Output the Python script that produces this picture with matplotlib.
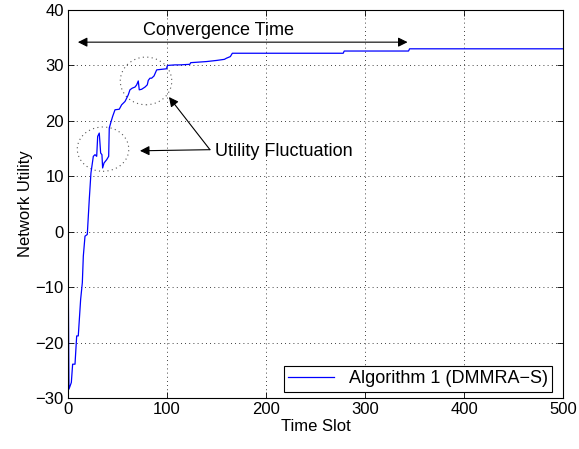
import matplotlib
matplotlib.use('Agg')
import matplotlib.pyplot as plt
from matplotlib.patches import Ellipse

plt.rcParams['font.family'] = ['Liberation Sans', 'DejaVu Sans']
plt.rcParams['font.size'] = 12

# data
time_slot = [0, 1, 3.4, 4.7, 7.1, 8.8, 10.4, 12.8, 14.5, 15.5, 17.2, 19.5, 21.5, 23.2,
             25.6, 27.3, 29, 30, 31.6, 33, 34.3, 35, 36.4, 39.1, 41.1, 41.7, 43.1, 45.1,
             47.5, 51.8, 54.2, 57.6, 59.3, 60.9, 62.6, 64.9, 67.7, 69.4, 71, 72, 74.4,
             77.8, 80.1, 81.1, 82.8, 84.5, 86.9, 89.6, 94.6, 99.7, 100.5, 108, 113, 123,
             124, 140, 150, 158, 160, 164, 166, 278, 279, 344, 345, 500]
utility = [0, -28.4, -27.2, -23.9, -23.9, -18.8, -18.8, -12.2, -9.2, -4.4, -0.8, -0.5,
           5.8, 10.6, 13.6, 13.9, 13.6, 17.2, 17.8, 14.2, 13.9, 11.5, 12.4, 13.0, 13.6,
           18.7, 19.6, 20.8, 22.0, 22.1, 22.9, 23.5, 24.1, 24.7, 25.6, 25.9, 26.1, 26.5,
           27.2, 25.6, 25.7, 26.1, 26.5, 27.3, 27.7, 27.7, 28.1, 29.2, 29.3, 29.4, 30.0,
           30.1, 30.1, 30.2, 30.5, 30.7, 30.9, 31.1, 31.3, 31.6, 32.2, 32.2, 32.6, 32.6,
           33.0, 33.0]

fig = plt.figure(figsize=(5.79, 4.49), dpi=100)
ax = fig.add_axes([0.1174, 0.1136, 0.855, 0.8641])

ax.plot(time_slot, utility, color='#0000ff', lw=0.9, label='Algorithm 1 (DMMRA\u2212S)')

ax.set_xlim(0, 500)
ax.set_ylim(-30, 40)
ax.set_xticks([0, 100, 200, 300, 400, 500])
ax.set_yticks(range(-30, 41, 10))
ax.set_yticklabels([str(v).replace('-', '\u2212') for v in range(-30, 41, 10)])
ax.tick_params(direction='in', top=True, right=True, length=4, width=0.6, pad=3)
ax.grid(True, color='black', linestyle=(0, (1, 4)), lw=0.6)
for s in ax.spines.values():
    s.set_linewidth(0.8)

ax.set_xlabel('Time Slot', labelpad=1)
ax.set_ylabel('Network Utility', labelpad=2)

# dotted circles
for cx, cy, w, h in [(35.4, 14.9, 52, 8.0), (78.8, 27.2, 52, 8.6)]:
    ax.add_patch(Ellipse((cx, cy), w, h, fill=False, edgecolor='#555555',
                         linestyle=(0, (1, 3)), lw=0.8))

# convergence time arrow
ax.annotate('', xy=(10, 34.2), xytext=(343, 34.2),
            arrowprops=dict(arrowstyle='<|-|>', color='black', lw=0.8,
                            mutation_scale=14, shrinkA=0, shrinkB=0))
ax.text(152.5, 35.5, 'Convergence Time', ha='center', va='baseline', fontsize=13)

# utility fluctuation arrows
for tx, ty in [(72.7, 14.6), (102, 24.3)]:
    ax.annotate('', xy=(tx, ty), xytext=(143.4, 14.8),
                arrowprops=dict(arrowstyle='-|>', color='black', lw=0.8,
                                mutation_scale=14, shrinkA=0, shrinkB=0))
ax.text(148.5, 13.7, 'Utility Fluctuation', ha='left', va='baseline', fontsize=13)

leg = ax.legend(loc='lower right', bbox_to_anchor=(0.978, 0.0155), fancybox=False,
                edgecolor='black', framealpha=1, handlelength=2.55, borderpad=0.25,
                borderaxespad=0, fontsize=13)
leg.get_frame().set_linewidth(0.8)

fig.savefig('out.png', dpi=100)
